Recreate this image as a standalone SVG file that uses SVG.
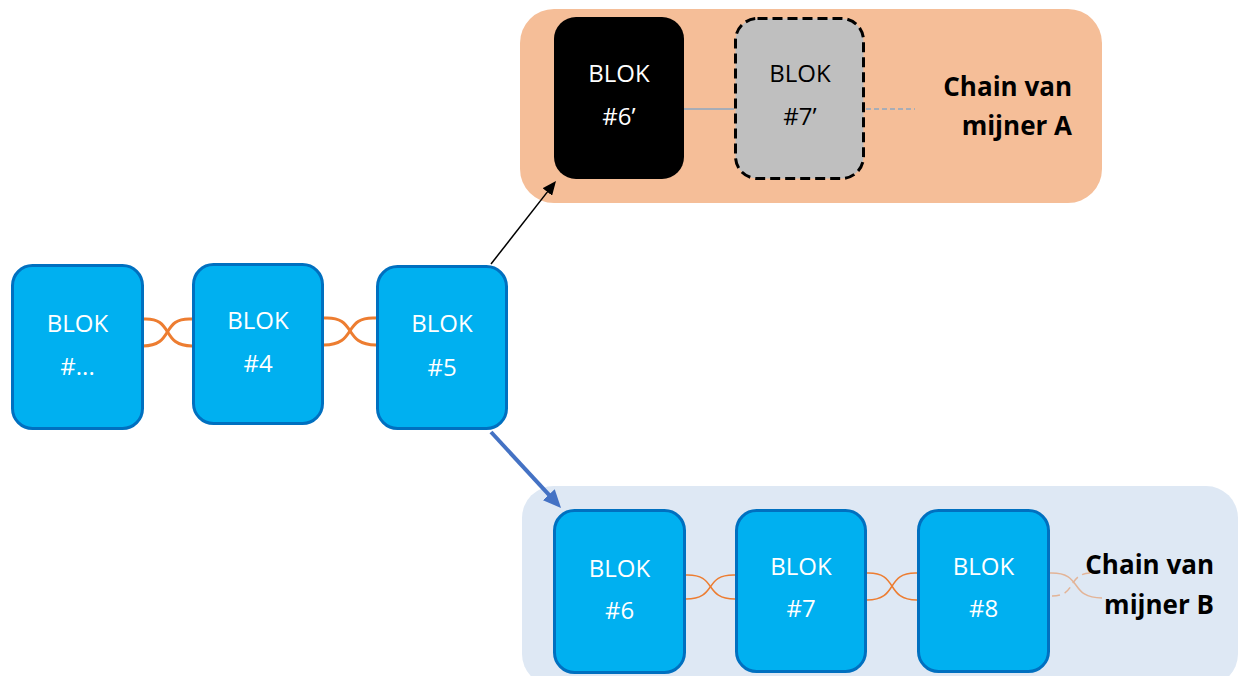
<svg xmlns="http://www.w3.org/2000/svg" width="1238" height="676" viewBox="0 0 1238 676">
<style>
.blk{fill:#00B0F0;stroke:#0070C0;stroke-width:3}
.wt{font-family:"Open Sans","Noto Sans",sans-serif;font-size:24px;fill:#FFFFFF;text-anchor:middle}
.bt{font-family:"Open Sans","Noto Sans",sans-serif;font-size:24px;fill:#000000;text-anchor:middle}
.hd{font-family:"Open Sans","Noto Sans",sans-serif;font-size:26px;font-weight:bold;fill:#000000;text-anchor:end}
.lk{fill:none;stroke:#ED7D31;stroke-width:3}
.lks{fill:none;stroke:#ED7D31;stroke-width:1.5}
.lkf{fill:none;stroke:#E3B497;stroke-width:1.5}
</style>
<defs>
<marker id="ahBlack" markerUnits="userSpaceOnUse" markerWidth="14" markerHeight="12" refX="2" refY="6" orient="auto"><path d="M0,0 L14,6 L0,12 z" fill="#000000"/></marker>
<marker id="ahBlue" markerUnits="userSpaceOnUse" markerWidth="18" markerHeight="16" refX="2" refY="8" orient="auto"><path d="M0,0 L18,8 L0,16 z" fill="#4472C4"/></marker>
</defs>
<g id="panelA"><rect x="520" y="9" width="582" height="194" rx="34" fill="#F5BE98"/></g>
<g id="panelB"><rect x="522" y="486" width="716" height="200" rx="32" fill="#DEE8F4"/></g>
<g id="connectors">
<path class="lk" d="M143,319 C175,317 160,346 192,346"/>
<path class="lk" d="M143,346 C175,346 160,317 192,319"/>
<path class="lk" d="M324,318 C358,316 342,345 376,345"/>
<path class="lk" d="M324,345 C358,345 342,316 376,318"/>
<path class="lks" d="M686,575 C718,574 703,599 735,599"/>
<path class="lks" d="M686,599 C718,599 703,574 735,575"/>
<path class="lks" d="M867,573 C899.5,572 884.5,600 917,600"/>
<path class="lks" d="M867,600 C899.5,600 884.5,572 917,573"/>
<path class="lkf" d="M1050,573 C1084,572 1068,598 1102,598"/>
<path class="lkf" stroke-dasharray="8,5" d="M1052,596 C1078,596 1066,573 1092,573"/>
<line x1="684" y1="109" x2="734" y2="109" stroke="#5B9BD5" stroke-width="1.2"/>
<line x1="866" y1="109" x2="915" y2="109" stroke="#5B9BD5" stroke-width="1.2" stroke-dasharray="5,3"/>
<line x1="491" y1="264" x2="548.6" y2="190.4" stroke="#000000" stroke-width="1.5" marker-end="url(#ahBlack)"/>
<line x1="491" y1="432" x2="550.2" y2="496.2" stroke="#4472C4" stroke-width="4" marker-end="url(#ahBlue)"/>
</g>
<g id="blokDots"><rect class="blk" x="12.5" y="265.5" width="130" height="163" rx="20"/><text class="wt" x="77.5" y="332">BLOK</text><text class="wt" x="77.5" y="375">#...</text></g>
<g id="blok4"><rect class="blk" x="193.5" y="264.5" width="129" height="159" rx="20"/><text class="wt" x="258" y="329">BLOK</text><text class="wt" x="258" y="372">#4</text></g>
<g id="blok5"><rect class="blk" x="377.5" y="266.5" width="129" height="162" rx="20"/><text class="wt" x="442" y="332">BLOK</text><text class="wt" x="442" y="376">#5</text></g>
<g id="blok6p"><rect x="554" y="17" width="130" height="162" rx="22" fill="#000000"/><text class="wt" x="619" y="82">BLOK</text><text class="wt" x="619" y="125">#6’</text></g>
<g id="blok7p"><rect x="735.5" y="18.5" width="128" height="160" rx="22" fill="#BFBFBF" stroke="#000000" stroke-width="3" stroke-dasharray="10,5"/><text class="bt" x="800" y="82">BLOK</text><text class="bt" x="800" y="125">#7’</text></g>
<g id="labelA"><text class="hd" x="1072" y="96">Chain van</text><text class="hd" x="1072" y="135">mijner A</text></g>
<g id="blok6"><rect class="blk" x="554.5" y="510.5" width="130" height="162" rx="20"/><text class="wt" x="619.5" y="577">BLOK</text><text class="wt" x="619.5" y="619">#6</text></g>
<g id="blok7"><rect class="blk" x="736.5" y="510.5" width="129" height="161" rx="20"/><text class="wt" x="801" y="575">BLOK</text><text class="wt" x="801" y="617">#7</text></g>
<g id="blok8"><rect class="blk" x="918.5" y="510.5" width="130" height="161" rx="20"/><text class="wt" x="983.5" y="575">BLOK</text><text class="wt" x="983.5" y="617">#8</text></g>
<g id="labelB"><text class="hd" x="1214" y="574">Chain van</text><text class="hd" x="1214" y="614">mijner B</text></g>
</svg>
